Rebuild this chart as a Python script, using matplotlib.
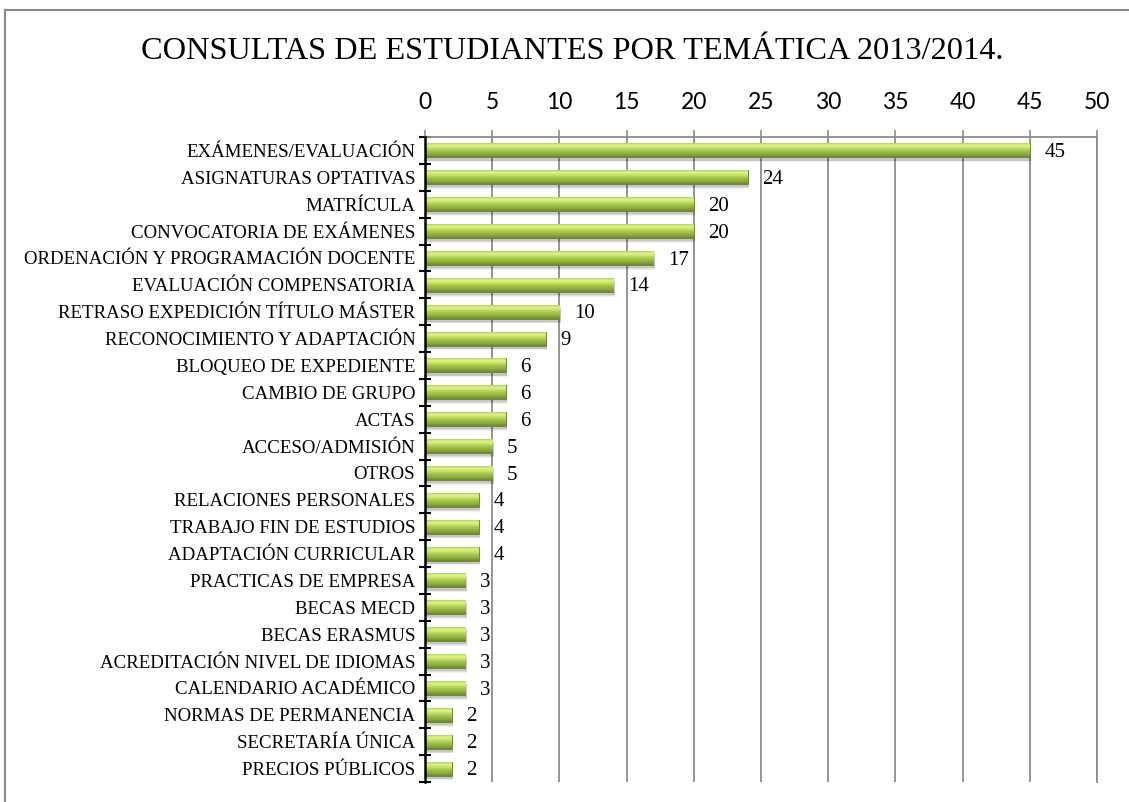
import numpy as np
import matplotlib
matplotlib.use("Agg")
import matplotlib.pyplot as plt
from matplotlib.colors import LinearSegmentedColormap
from matplotlib.lines import Line2D


# Datos

temas = [
    "EXÁMENES/EVALUACIÓN",
    "ASIGNATURAS OPTATIVAS",
    "MATRÍCULA",
    "CONVOCATORIA DE EXÁMENES",
    "ORDENACIÓN Y PROGRAMACIÓN DOCENTE",
    "EVALUACIÓN COMPENSATORIA",
    "RETRASO EXPEDICIÓN TÍTULO MÁSTER",
    "RECONOCIMIENTO Y ADAPTACIÓN",
    "BLOQUEO DE EXPEDIENTE",
    "CAMBIO DE GRUPO",
    "ACTAS",
    "ACCESO/ADMISIÓN",
    "OTROS",
    "RELACIONES PERSONALES",
    "TRABAJO FIN DE ESTUDIOS",
    "ADAPTACIÓN CURRICULAR",
    "PRACTICAS DE EMPRESA",
    "BECAS MECD",
    "BECAS ERASMUS",
    "ACREDITACIÓN NIVEL DE IDIOMAS",
    "CALENDARIO ACADÉMICO",
    "NORMAS DE PERMANENCIA",
    "SECRETARÍA ÚNICA",
    "PRECIOS PÚBLICOS",
]
consultas = [45, 24, 20, 20, 17, 14, 10, 9, 6, 6, 6, 5, 5, 4, 4, 4, 3, 3, 3, 3, 3, 2, 2, 2]
xticks = list(range(0, 55, 5))

titulo = "CONSULTAS DE ESTUDIANTES POR TEMÁTICA 2013/2014."

W, H = 1129, 802
fig = plt.figure(figsize=(W / 100, H / 100), dpi=100)
ax = fig.add_axes([425 / W, 1 - 782 / H, (1097 - 425) / W, (782 - 137) / H])

pos = np.arange(len(temas))

# sombra difusa bajo las barras
for k, a in enumerate([0.10, 0.08, 0.06]):
    ax.barh(pos + 0.10 + 0.03 * k, consultas, height=0.55, left=0.1,
            color="#000000", alpha=a, linewidth=0, zorder=2)

bars = ax.barh(pos, consultas, height=0.52, color="#9CBC48",
               edgecolor="#6F8B2E", linewidth=0.7, zorder=3)

# degradado vertical dentro de cada barra
verde = LinearSegmentedColormap.from_list(
    "verde", ["#B7D35E", "#DDF290", "#C9E46E", "#AACB52", "#98B944",
              "#86A63A", "#6C8830"])
grad = np.linspace(0, 1, 64).reshape(-1, 1)
for b in bars:
    x0, y0, w, h = b.get_x(), b.get_y(), b.get_width(), b.get_height()
    im = ax.imshow(grad, cmap=verde, aspect="auto", origin="lower",
                   extent=[x0, x0 + w, y0, y0 + h], zorder=3.5)
    im.set_clip_path(b)

for i, v in enumerate(consultas):
    ax.annotate(str(v), (v, i + 0.08), xytext=(10.5, 0), textcoords="offset points",
                ha="left", va="center", fontsize=15,
                family="Liberation Serif", zorder=5)

ax.set_xlim(0, 50)
ax.set_ylim(len(temas) - 0.5, -0.5)

ax.xaxis.tick_top()
ax.set_xticks(xticks)
ax.set_xticklabels([str(t) for t in xticks], family="Lato", fontsize=16.5)
ax.tick_params(axis="x", direction="out", length=5, width=1.2,
               color="#8C8C8C", pad=12)
ax.grid(axis="x", color="#8C8C8C", linewidth=1.3, zorder=0)
ax.set_axisbelow(True)

ax.set_yticks(pos)
ax.set_yticklabels(temas, family="Liberation Serif", fontsize=13.6)
ax.tick_params(axis="y", which="major", length=0, pad=7)
ax.set_yticks(np.arange(len(temas) + 1) - 0.5, minor=True)
ax.tick_params(axis="y", which="minor", direction="inout", length=9,
               width=1.5, color="black")

ax.spines["left"].set_color("black")
ax.spines["left"].set_linewidth(1.8)
ax.spines["left"].set_zorder(6)
ax.spines["top"].set_color("#8C8C8C")
ax.spines["top"].set_linewidth(1.3)
ax.spines["right"].set_color("#8C8C8C")
ax.spines["right"].set_linewidth(1.3)
ax.spines["bottom"].set_visible(False)

fig.text(572 / W, 1 - 59 / H, titulo, ha="center", va="baseline",
         family="Liberation Serif", fontsize=23.3)

# marco del gráfico
fx, fy = 5 / W, 1 - 10 / H
fig.add_artist(Line2D([fx, fx], [0, fy], color="#8A8A8A", linewidth=1.5))
fig.add_artist(Line2D([fx, 1], [fy, fy], color="#8A8A8A", linewidth=1.5))

fig.savefig("out.png", dpi=100)
